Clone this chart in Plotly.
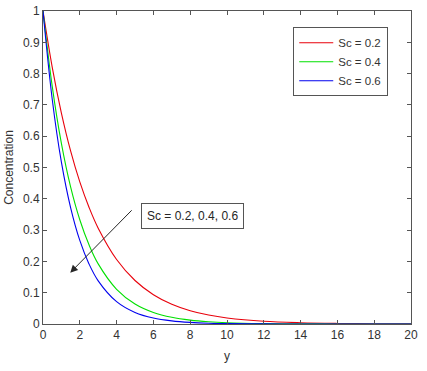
import plotly.graph_objects as go

# distance from plate
y_pos = [0, 0.5, 1, 1.5, 2, 2.5, 3, 4, 5, 6, 7, 8, 9, 10, 12, 14, 16, 18, 20]

# concentration profiles
conc_sc02 = [1, 0.821, 0.674, 0.553, 0.454, 0.373, 0.306, 0.206, 0.139, 0.0935,
             0.063, 0.0424, 0.0286, 0.0193, 0.0087, 0.004, 0.0018, 0.0008, 0.0004]
conc_sc04 = [1, 0.760, 0.577, 0.438, 0.333, 0.253, 0.192, 0.111, 0.064, 0.037,
             0.0213, 0.0123, 0.0071, 0.0041, 0.0014, 0.0005, 0.0002, 0.0001, 0.0]
conc_sc06 = [1, 0.719, 0.517, 0.372, 0.267, 0.192, 0.138, 0.0714, 0.0369, 0.019,
             0.0099, 0.0051, 0.0026, 0.0014, 0.0004, 0.0001, 0.0, 0.0, 0.0]

names = ["Sc = 0.2", "Sc = 0.4", "Sc = 0.6"]
colors = ["#e8000b", "#00e000", "#0000ee"]

fig = go.Figure()
for vals, nm, col in zip([conc_sc02, conc_sc04, conc_sc06], names, colors):
    fig.add_trace(go.Scatter(x=y_pos, y=vals, mode="lines", name=nm,
                             line=dict(color=col, width=1.1, shape="spline")))

axis_common = dict(showline=True, linecolor="#555555", linewidth=1, mirror="ticks",
                   ticks="inside", ticklen=4, tickcolor="#555555", showgrid=False,
                   zeroline=False, automargin=False,
                   tickfont=dict(size=12, color="#333333"))

fig.update_xaxes(range=[0, 20], dtick=2,
                 title=dict(text="y", font=dict(size=12, color="#333333"), standoff=10),
                 **axis_common)
fig.update_yaxes(range=[0, 1], dtick=0.1, tickformat="~g",
                 title=dict(text="Concentration", font=dict(size=12, color="#333333"), standoff=6),
                 **axis_common)

# label box and arrow
fig.add_annotation(x=8.1, y=0.345, xref="x", yref="y", text="Sc = 0.2, 0.4, 0.6",
                   showarrow=False, font=dict(size=12, color="#262626"),
                   bordercolor="#555555", borderwidth=1, borderpad=5, bgcolor="white")
fig.add_annotation(x=1.48, y=0.164, ax=4.9, ay=0.368, xref="x", yref="y",
                   axref="x", ayref="y", text="", showarrow=True,
                   arrowhead=2, arrowsize=1.5, arrowwidth=1, arrowcolor="#262626")

fig.update_layout(
    width=427, height=371,
    margin=dict(l=43, r=16, t=11, b=47),
    paper_bgcolor="white", plot_bgcolor="white",
    font=dict(family="Liberation Sans, Arial, sans-serif", size=12, color="#333333"),
    legend=dict(x=0.68, y=0.948, xanchor="left", yanchor="top",
                bordercolor="#555555", borderwidth=1, bgcolor="white",
                font=dict(size=11.5), itemwidth=34, tracegroupgap=4),
    showlegend=True,
)

# drop the default page margin so the figure sits at the window corner
fig.write_html("out.html", config={"displayModeBar": False},
               post_script="document.body.style.margin='0';")
